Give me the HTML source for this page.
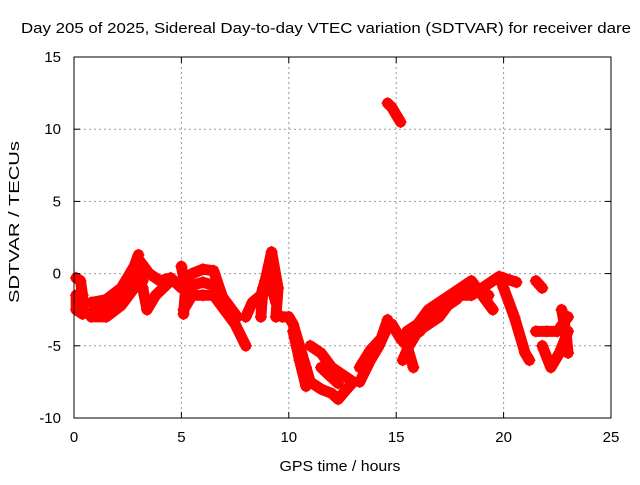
<!DOCTYPE html>
<html><head><meta charset="utf-8"><style>
body{margin:0;background:#fff;}
svg text{font-family:"Liberation Sans",sans-serif;font-size:15px;fill:#000;}
</style></head><body>
<svg id="chart" width="640" height="480">
<text x="326" y="33" text-anchor="middle" textLength="610" lengthAdjust="spacingAndGlyphs">Day 205 of 2025, Sidereal Day-to-day VTEC variation (SDTVAR) for receiver dare</text>
<text x="340" y="471" text-anchor="middle" textLength="121" lengthAdjust="spacingAndGlyphs">GPS time / hours</text>
<text transform="translate(19,222) rotate(-90)" text-anchor="middle" textLength="162" lengthAdjust="spacingAndGlyphs">SDTVAR / TECUs</text>
<g id="grid"></g><g id="marks"></g><g id="axes"></g>
</svg>
<script>
const xTicks=[0,5,10,15,20,25];
const yTicks=[-10,-5,0,5,10,15];
const track1=[[0.1,-0.3],[0.3,-0.5],[0.4,-1.5],[0.4,-2.8],[0.1,-2.5],[0.1,-1.5]];
const track2=[[0.8,-2],[1.5,-1.8],[2.2,-1],[2.8,0.5],[3,1.3]];
const track3=[[0.8,-3],[1.5,-3],[2.2,-2.2],[2.8,-1],[3.2,-0.5]];
const track3b=[[0.9,-2.5],[1.6,-2.4],[2.2,-1.6],[2.8,-0.3],[3.1,0.3]];
const track4=[[3,1],[3.5,0],[4,-0.5],[4.5,-0.3],[5,-1]];
const track5=[[3.2,-1],[3.4,-2.5],[3.8,-1.5],[4.5,-0.5]];
const track6=[[5,-0.5],[5.5,0],[6,0.3],[6.5,0.2],[7,-2],[7.5,-3]];
const track7=[[5.1,-2.5],[5.5,-1.5],[6,-1.5],[6.5,-1.5],[7,-2.5],[7.5,-3.5],[8,-5]];
const track7b=[[5.5,-0.8],[6,-0.6],[6.5,-0.8],[7,-1.8],[7.6,-3]];
const track8=[[5,0.5],[5.2,-1],[5.1,-2.8]];
const track9=[[8,-3],[8.3,-2],[8.7,-1.5],[8.9,-0.5],[9.2,1.5],[9.5,-1],[9.4,-3]];
const track9b=[[8.7,-3],[8.8,-1],[9.1,-0.5],[9.4,-2]];
const track10=[[9.7,-3],[10,-3],[10.2,-3.5],[10.5,-5],[10.8,-6.5],[11,-7.5],[11.5,-8],[12,-8.3],[12.3,-8.7],[12.7,-8],[13,-7.5]];
const track11=[[10.2,-4],[10.5,-6],[10.8,-7.8]];
const track12=[[11,-5],[11.5,-5.5],[12,-6.5],[12.5,-7],[13,-7.5]];
const track13=[[11.5,-6.5],[12,-7.2],[12.3,-7.6]];
const track14=[[13.3,-7.5],[13.8,-6],[14.2,-5],[14.5,-4],[14.8,-3.5],[15.2,-4.5],[15.5,-5]];
const track15=[[13.3,-6.5],[13.8,-5.3],[14.3,-4.5],[14.6,-3.2]];
const track16=[[15.3,-6],[15.6,-5],[16,-4],[16.5,-3.5],[17,-3],[17.5,-2],[18,-1.5],[18.5,-1.5],[19,-1],[19.5,-0.5],[19.8,-0.2],[20,-1],[20.5,-3],[21,-5.5],[21.2,-6]];
const track17=[[15.5,-4],[16,-3.5],[16.5,-2.5],[17,-2],[17.5,-1.5],[18,-1],[18.5,-0.5],[19,-1.5],[19.5,-2.5]];
const track17b=[[15.6,-4.5],[16.1,-4],[16.6,-3],[17.2,-2.4],[17.8,-1.8],[18.3,-1],[18.8,-1],[19.3,-1.5]];
const track18=[[15.5,-5],[15.8,-6.5]];
const track19=[[20,-0.3],[20.6,-0.6]];
const track20=[[21.5,-0.5],[21.8,-1]];
const track21=[[21.5,-4],[22,-4],[22.5,-4],[23,-3]];
const track22=[[21.8,-5],[22.2,-6.5],[22.6,-5.5],[23,-4]];
const track23=[[22.7,-2.5],[22.9,-4],[23,-5.5]];
const track24=[[14.6,11.8],[14.8,11.5],[15,11],[15.2,10.5]];
const tracks=[track1,track2,track3,track3b,track4,track5,track6,track7,track7b,track8,track9,track9b,track10,track11,track12,track13,track14,track15,track16,track17,track17b,track18,track19,track20,track21,track22,track23,track24];
const L=74,R=611,T=57,B=418;
const xs=v=>L+(v-0)/25*(R-L);
const ys=v=>B-(v+10)/25*(B-T);
const NS='http://www.w3.org/2000/svg';
const grid=document.getElementById('grid'),marks=document.getElementById('marks'),axes=document.getElementById('axes');
function mk(tag,attrs,parent){const e=document.createElementNS(NS,tag);for(const k in attrs)e.setAttribute(k,attrs[k]);parent.appendChild(e);return e;}
xTicks.forEach(t=>{
 if(t>0&&t<25){const g=mk('line',{x1:xs(t),x2:xs(t),y1:T,y2:B,stroke:'#999','stroke-dasharray':'2,3'},grid);
 
 }
 const tx=mk('text',{x:xs(t),y:B+24,'text-anchor':'middle'},axes);tx.textContent=t;
 
 
 mk('line',{x1:xs(t),x2:xs(t),y1:B,y2:B-6,stroke:'#000'},axes);mk('line',{x1:xs(t),x2:xs(t),y1:T,y2:T+6,stroke:'#000'},axes);
});
yTicks.forEach(t=>{
 if(t>-10&&t<15){const g=mk('line',{x1:L,x2:R,y1:ys(t),y2:ys(t),stroke:'#999','stroke-dasharray':'2,3'},grid);
 
 }
 const tx=mk('text',{x:L-13,y:ys(t)+5,'text-anchor':'end'},axes);tx.textContent=t;
 
 
 mk('line',{x1:L,x2:L+6,y1:ys(t),y2:ys(t),stroke:'#000'},axes);mk('line',{x1:R,x2:R-6,y1:ys(t),y2:ys(t),stroke:'#000'},axes);
});
const fr=mk('rect',{x:L,y:T,width:R-L,height:B-T,fill:'none',stroke:'#000'},axes);


tracks.forEach(tr=>{
 const p=mk('polyline',{points:tr.map(d=>xs(d[0])+','+ys(d[1])).join(' '),fill:'none',stroke:'#f00','stroke-width':11,'stroke-linejoin':'round','stroke-linecap':'round'},marks);
 
 
 tr.forEach(d=>{const x=xs(d[0]),y=ys(d[1]);
  const m=mk('path',{d:`M${x-6},${y}H${x+6}M${x},${y-6}V${y+6}`,stroke:'#f00','stroke-width':1.5},marks);
  
  });
});
</script>
</body></html>
